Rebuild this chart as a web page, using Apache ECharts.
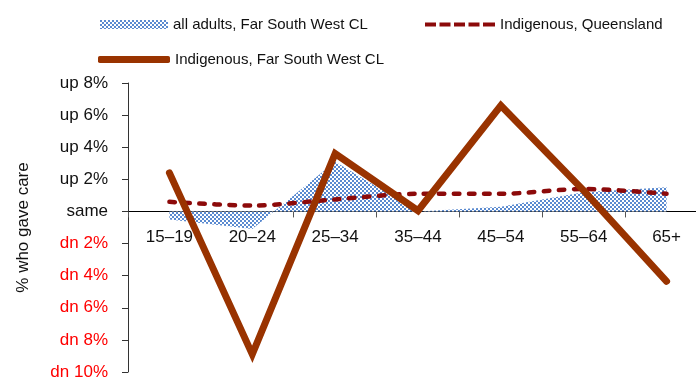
<!DOCTYPE html>
<html>
<head>
<meta charset="utf-8">
<script src="https://cdn.jsdelivr.net/npm/echarts@6/dist/echarts.min.js"></script>
<style>
  html, body { margin: 0; padding: 0; background: #fff; }
  #chart { width: 696px; height: 378px; }
</style>
</head>
<body>
<div id="chart"></div>
<script>
// Age groups along the x axis
const ageGroups = ['15–19', '20–24', '25–34', '35–44', '45–54', '55–64', '65+'];

// Change in % who gave care (percentage points)
const allAdultsFSW = [-0.5, -1.1, 3.1, 0.0, 0.3, 1.2, 1.5];
const indigenousQld = [0.6, 0.37, 0.75, 1.1, 1.1, 1.4, 1.1];
const indigenousFSW = [2.4, -8.9, 3.6, 0.05, 6.6, 1.3, -4.35];

// Y axis range / step
const yMin = -10, yMax = 8, yStep = 2;

const seriesNames = [
  'all adults, Far South West CL',
  'Indigenous, Queensland',
  'Indigenous, Far South West CL'
];

// Small blue checkerboard fill used for the area series
function checkerPattern() {
  const c = document.createElement('canvas');
  c.width = 4; c.height = 4;
  const g = c.getContext('2d');
  g.fillStyle = '#ffffff';
  g.fillRect(0, 0, 4, 4);
  g.fillStyle = '#5a8ad0';
  g.fillRect(0, 0, 2, 2);
  g.fillRect(2, 2, 2, 2);
  return c;
}
const checker = { image: checkerPattern(), repeat: 'repeat' };

const FONT = '"Liberation Sans", Arial, sans-serif';
const QLD_COLOR = '#8c0a0a';
const FSW_COLOR = '#993300';
const QLD_DASH = [5.5, 9.5];

// Plot box
const GRID_TOP = 83, GRID_BOTTOM = 6, CHART_H = 378;
const plotH = CHART_H - GRID_TOP - GRID_BOTTOM;
// distance from the bottom of the plot up to the zero line
const zeroLift = plotH * (0 - yMin) / (yMax - yMin);

function yLabel(v) {
  if (v === 0) return 'same';
  return (v > 0 ? 'up ' : 'dn ') + Math.abs(v) + '%';
}

const legendText = { fontFamily: FONT, fontSize: 15, color: '#111' };

const chart = echarts.init(document.getElementById('chart'), null, { renderer: 'canvas' });

chart.setOption({
  animation: false,
  backgroundColor: '#ffffff',
  textStyle: { fontFamily: FONT },
  grid: { left: 128, right: -12, top: GRID_TOP, bottom: GRID_BOTTOM, containLabel: false, outerBoundsMode: 'none' },
  legend: [
    {
      left: 95, top: 12, itemWidth: 68, itemHeight: 9, itemGap: 0,
      textStyle: legendText,
      data: [{ name: seriesNames[0], icon: 'rect', itemStyle: { color: checker, borderWidth: 0 } }]
    },
    {
      left: 420, top: 12, itemWidth: 70, itemHeight: 4.5, itemGap: 0,
      textStyle: legendText,
      data: [{
        name: seriesNames[1],
        icon: 'path://M0,0h11v4h-11z M14.5,0h11v4h-11z M29,0h11v4h-11z M43.5,0h11v4h-11z M58,0h12v4h-12z',
        itemStyle: { color: QLD_COLOR, borderWidth: 0 }
      }]
    },
    {
      left: 93, top: 47, itemWidth: 72, itemHeight: 7, itemGap: 0,
      textStyle: legendText,
      data: [{ name: seriesNames[2], icon: 'roundRect', itemStyle: { color: FSW_COLOR, borderWidth: 0 } }]
    }
  ],
  xAxis: {
    type: 'category',
    data: ageGroups,
    boundaryGap: true,
    offset: -zeroLift,
    axisLine: { onZero: false, lineStyle: { color: '#000', width: 1 } },
    axisTick: { show: true, length: 6, lineStyle: { color: '#555' } },
    axisLabel: { fontFamily: FONT, fontSize: 17, color: '#111', margin: 17 },
    splitLine: { show: false }
  },
  yAxis: {
    type: 'value',
    min: yMin, max: yMax, interval: yStep,
    name: '% who gave care',
    nameLocation: 'middle',
    nameGap: 96,
    nameRotate: 90,
    nameTextStyle: { fontFamily: FONT, fontSize: 17, color: '#111' },
    axisLine: { show: true, lineStyle: { color: '#333', width: 1 } },
    axisTick: { show: true, length: 6, lineStyle: { color: '#333' } },
    axisLabel: {
      fontFamily: FONT, fontSize: 17, margin: 20,
      formatter: yLabel,
      color: function (v) { return Number(v) < 0 ? '#ff0000' : '#111'; }
    },
    splitLine: { show: false }
  },
  series: [
    {
      name: seriesNames[0],
      type: 'line',
      data: allAdultsFSW,
      symbol: 'none',
      lineStyle: { width: 0, opacity: 0 },
      itemStyle: { color: checker },
      areaStyle: { color: checker, opacity: 1 },
      z: 1
    },
    {
      name: seriesNames[1],
      type: 'line',
      data: indigenousQld,
      symbol: 'none',
      smooth: 0.3,
      itemStyle: { color: QLD_COLOR },
      lineStyle: { color: QLD_COLOR, width: 4.5, type: QLD_DASH, cap: 'round' },
      z: 2
    },
    {
      name: seriesNames[2],
      type: 'line',
      data: indigenousFSW,
      symbol: 'none',
      itemStyle: { color: FSW_COLOR },
      lineStyle: { color: FSW_COLOR, width: 7, cap: 'round', join: 'miter' },
      z: 3
    }
  ]
});
</script>
</body>
</html>
